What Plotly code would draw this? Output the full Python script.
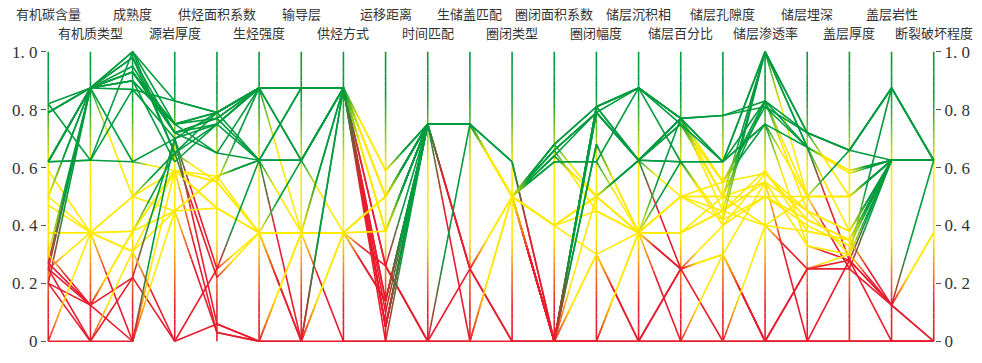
import plotly.graph_objects as go

# Evaluation factors (one vertical axis per factor)
dimensions = [
    "有机碳含量", "有机质类型", "成熟度", "源岩厚度", "供烃面积系数", "生烃强度",
    "输导层", "供烃方式", "运移距离", "时间匹配", "生储盖匹配", "圈闭类型",
    "圈闭面积系数", "圈闭幅度", "储层沉积相", "储层百分比", "储层孔隙度",
    "储层渗透率", "储层埋深", "盖层厚度", "盖层岩性", "断裂破坏程度",
]

tick_values = [0, 0.2, 0.4, 0.6, 0.8, 1.0]
tick_labels = ["0", "0. 2", "0. 4", "0. 6", "0. 8", "1. 0"]

# Normalised factor scores of each trap, grouped by overall grade
good_traps = [
    [0.82, 0.875, 1.00, 0.83, 0.79, 0.875, 0.875, 0.875, 0.05, 0.75, 0.75, 0.50, 0.68, 0.81, 0.875, 0.77, 0.78, 0.83, 0.72, 0.66, 0.875, 0.625],
    [0.79, 0.875, 0.93, 0.72, 0.77, 0.875, 0.875, 0.875, 0.50, 0.75, 0.75, 0.50, 0.66, 0.79, 0.625, 0.77, 0.62, 1.00, 0.67, 0.59, 0.625, 0.625],
    [0.62, 0.875, 0.90, 0.75, 0.79, 0.625, 0.875, 0.875, 0.10, 0.75, 0.75, 0.50, 0.00, 0.81, 0.625, 0.77, 0.45, 1.00, 0.72, 0.50, 0.625, 0.625],
    [0.50, 0.875, 0.87, 0.70, 0.75, 0.875, 0.625, 0.875, 0.14, 0.75, 0.75, 0.62, 0.00, 0.68, 0.375, 0.77, 0.55, 0.81, 0.67, 0.38, 0.625, 0.625],
    [0.30, 0.875, 1.00, 0.65, 0.79, 0.875, 0.875, 0.875, 0.05, 0.75, 0.75, 0.50, 0.00, 0.81, 0.875, 0.62, 0.62, 0.75, 0.50, 0.66, 0.875, 0.625],
    [0.27, 0.875, 0.95, 0.72, 0.77, 0.875, 0.875, 0.875, 0.38, 0.75, 0.75, 0.50, 0.00, 0.79, 0.625, 0.75, 0.50, 0.83, 0.45, 0.30, 0.875, 0.625],
    [0.62, 0.625, 1.00, 0.75, 0.65, 0.625, 0.625, 0.875, 0.26, 0.75, 0.75, 0.50, 0.64, 0.50, 0.625, 0.62, 0.42, 1.00, 0.67, 0.58, 0.625, 0.625],
    [0.82, 0.625, 0.87, 0.83, 0.79, 0.875, 0.875, 0.875, 0.50, 0.75, 0.75, 0.50, 0.62, 0.62, 0.875, 0.77, 0.78, 0.81, 0.72, 0.66, 0.625, 0.625],
    [0.25, 0.875, 0.90, 0.62, 0.75, 0.625, 0.625, 0.875, 0.05, 0.75, 0.75, 0.50, 0.00, 0.68, 0.375, 0.62, 0.40, 0.58, 0.42, 0.35, 0.625, 0.625],
    [0.20, 0.875, 0.62, 0.70, 0.79, 0.875, 0.875, 0.875, 0.14, 0.75, 0.75, 0.50, 0.68, 0.81, 0.875, 0.77, 0.55, 0.75, 0.33, 0.30, 0.625, 0.625],
    [0.79, 0.875, 0.93, 0.72, 0.65, 0.875, 0.875, 0.875, 0.00, 0.75, 0.75, 0.50, 0.00, 0.81, 0.625, 0.75, 0.62, 0.83, 0.50, 0.25, 0.625, 0.625],
    [0.62, 0.875, 0.98, 0.65, 0.75, 0.875, 0.875, 0.875, 0.38, 0.75, 0.75, 0.50, 0.66, 0.79, 0.875, 0.77, 0.62, 1.00, 0.72, 0.66, 0.875, 0.625],
    [0.79, 0.875, 0.90, 0.75, 0.77, 0.625, 0.875, 0.875, 0.59, 0.75, 0.75, 0.50, 0.00, 0.81, 0.875, 0.75, 0.55, 0.83, 0.67, 0.59, 0.625, 0.625],
    [0.62, 0.875, 0.98, 0.72, 0.75, 0.875, 0.875, 0.875, 0.38, 0.75, 0.75, 0.50, 0.64, 0.79, 0.625, 0.77, 0.50, 1.00, 0.50, 0.50, 0.625, 0.625],
    [0.62, 0.875, 0.93, 0.75, 0.79, 0.875, 0.625, 0.875, 0.05, 0.75, 0.75, 0.50, 0.00, 0.79, 0.625, 0.62, 0.62, 0.75, 0.67, 0.28, 0.125, 0.625],
]

fair_traps = [
    [0.50, 0.375, 0.50, 0.59, 0.55, 0.375, 0.375, 0.375, 0.50, 0.75, 0.75, 0.50, 0.40, 0.50, 0.375, 0.50, 0.50, 0.55, 0.45, 0.38, 0.625, 0.625],
    [0.375, 0.375, 0.38, 0.45, 0.57, 0.625, 0.375, 0.875, 0.59, 0.75, 0.75, 0.50, 0.66, 0.45, 0.375, 0.375, 0.45, 0.59, 0.38, 0.35, 0.625, 0.625],
    [0.47, 0.375, 0.31, 0.59, 0.46, 0.375, 0.375, 0.375, 0.50, 0.75, 0.75, 0.50, 0.64, 0.50, 0.375, 0.50, 0.42, 0.50, 0.40, 0.33, 0.625, 0.625],
    [0.62, 0.625, 0.62, 0.59, 0.57, 0.625, 0.625, 0.875, 0.50, 0.75, 0.75, 0.50, 0.62, 0.62, 0.375, 0.50, 0.50, 0.40, 0.50, 0.50, 0.625, 0.625],
    [0.25, 0.375, 0.31, 0.45, 0.46, 0.375, 0.625, 0.375, 0.38, 0.75, 0.75, 0.50, 0.40, 0.30, 0.375, 0.375, 0.45, 0.55, 0.33, 0.28, 0.625, 0.625],
    [0.50, 0.875, 0.50, 0.65, 0.55, 0.875, 0.375, 0.875, 0.50, 0.75, 0.75, 0.50, 0.68, 0.50, 0.625, 0.50, 0.55, 0.58, 0.45, 0.38, 0.625, 0.625],
    [0.375, 0.375, 0.38, 0.59, 0.46, 0.375, 0.375, 0.375, 0.50, 0.75, 0.00, 0.50, 0.40, 0.50, 0.375, 0.25, 0.40, 0.50, 0.50, 0.50, 0.625, 0.625],
    [0.20, 0.125, 0.38, 0.59, 0.55, 0.375, 0.375, 0.375, 0.38, 0.75, 0.25, 0.50, 0.40, 0.45, 0.375, 0.50, 0.45, 0.40, 0.38, 0.35, 0.125, 0.375],
    [0.59, 0.375, 0.50, 0.45, 0.57, 0.375, 0.375, 0.375, 0.50, 0.75, 0.75, 0.50, 0.40, 0.50, 0.375, 0.375, 0.50, 0.50, 0.42, 0.35, 0.625, 0.625],
]

poor_traps = [
    [0.27, 0.125, 0.22, 0.00, 0.25, 0.375, 0.00, 0.375, 0.26, 0.00, 0.00, 0.50, 0.00, 0.00, 0.00, 0.25, 0.30, 0.00, 0.25, 0.28, 0.125, 0.00],
    [0.25, 0.00, 0.31, 0.00, 0.06, 0.00, 0.375, 0.00, 0.00, 0.00, 0.25, 0.00, 0.00, 0.30, 0.00, 0.00, 0.00, 0.00, 0.00, 0.00, 0.00, 0.00],
    [0.00, 0.375, 0.00, 0.45, 0.03, 0.00, 0.00, 0.00, 0.00, 0.00, 0.00, 0.00, 0.00, 0.00, 0.00, 0.25, 0.30, 0.00, 0.00, 0.00, 0.00, 0.00],
    [0.30, 0.125, 0.38, 0.65, 0.22, 0.375, 0.00, 0.375, 0.14, 0.75, 0.25, 0.00, 0.00, 0.00, 0.375, 0.25, 0.00, 0.40, 0.25, 0.30, 0.125, 0.375],
    [0.20, 0.00, 0.00, 0.70, 0.25, 0.625, 0.00, 0.875, 0.26, 0.00, 0.75, 0.62, 0.00, 0.30, 0.00, 0.00, 0.30, 0.00, 0.00, 0.28, 0.00, 0.00],
    [0.00, 0.00, 0.22, 0.70, 0.06, 0.00, 0.00, 0.875, 0.05, 0.75, 0.25, 0.50, 0.00, 0.50, 0.625, 0.25, 0.30, 0.55, 0.00, 0.00, 0.00, 0.00],
    [0.25, 0.125, 0.00, 0.59, 0.03, 0.00, 0.375, 0.375, 0.14, 0.75, 0.75, 0.50, 0.00, 0.00, 0.375, 0.00, 0.00, 0.00, 0.25, 0.25, 0.125, 0.00],
]

RED = (232, 28, 46)
YELLOW = (255, 234, 0)
GREEN = (0, 156, 62)
ORANGE = (246, 130, 30)


def score_colour(v):
    if v < 0.3:
        return RED
    if v < 0.6:
        return YELLOW
    return GREEN


def mix(c0, c1, t):
    return tuple(round(a + (b - a) * t) for a, b in zip(c0, c1))


def rgb(c):
    return "rgb(%d,%d,%d)" % c


BLEND = 0.4     # share of a segment over which the colour shifts
STEPS = 8
pieces = {}  # colour -> (xs, ys)


def add_piece(c, x0, y0, x1, y1):
    xs, ys = pieces.setdefault(c, ([], []))
    xs += [x0, x1, None]
    ys += [y0, y1, None]


# Each segment shifts from the colour of its left score to that of its right score
for row in good_traps + fair_traps + poor_traps:
    for i in range(len(row) - 1):
        y0, y1 = row[i], row[i + 1]
        c0, c1 = score_colour(y0), score_colour(y1)
        if c0 == c1:
            add_piece(c1, i, y0, i + 1, y1)
            continue
        for k in range(STEPS):
            ta, tb = BLEND * k / STEPS, BLEND * (k + 1) / STEPS
            c = mix(c0, c1, (k + 0.5) / STEPS)
            add_piece(c, i + ta, y0 + (y1 - y0) * ta, i + tb, y0 + (y1 - y0) * tb)
        add_piece(c1, i + BLEND, y0 + (y1 - y0) * BLEND, i + 1, y1)

fig = go.Figure()

# Vertical factor axes with a red-yellow-green gradient
axis_stops = [(0.0, RED), (0.12, RED), (0.25, ORANGE), (0.36, YELLOW),
              (0.6, YELLOW), (0.85, GREEN), (1.0, GREEN)]


def axis_colour(v):
    for (p0, c0), (p1, c1) in zip(axis_stops[:-1], axis_stops[1:]):
        if p0 <= v <= p1:
            return mix(c0, c1, (v - p0) / (p1 - p0) if p1 > p0 else 0)
    return GREEN


AX_STEPS = 40
axis_pieces = {}
for i in range(len(dimensions)):
    for k in range(AX_STEPS):
        ya, yb = k / AX_STEPS, (k + 1) / AX_STEPS
        c = axis_colour((ya + yb) / 2)
        xs, ys = axis_pieces.setdefault(c, ([], []))
        xs += [i, i, None]
        ys += [ya, yb, None]

for c, (xs, ys) in axis_pieces.items():
    fig.add_trace(go.Scatter(x=xs, y=ys, mode="lines", hoverinfo="skip",
                             line=dict(color=rgb(c), width=1.6), showlegend=False))

for c in sorted(pieces, key=lambda c: c[1] - c[0]):
    xs, ys = pieces[c]
    fig.add_trace(go.Scatter(x=xs, y=ys, mode="lines", hoverinfo="skip",
                             line=dict(color=rgb(c), width=1.6), showlegend=False))

# Right-hand scale
fig.add_trace(go.Scatter(x=[len(dimensions) - 1], y=[0], yaxis="y2", mode="markers",
                         marker=dict(opacity=0), hoverinfo="skip", showlegend=False))

# Factor names, staggered over two rows
for i, name in enumerate(dimensions):
    fig.add_annotation(x=i, xref="x", y=1.1246 if i % 2 == 0 else 1.0598, yref="paper",
                       text=name, showarrow=False, xanchor="center", yanchor="middle",
                       font=dict(family="Noto Sans CJK SC", size=13, color="#333333"))

tick_font = dict(family="Liberation Serif", size=17, color="#333333")
yrange = [-0.006, 1.006]
fig.update_layout(
    width=982, height=363,
    margin=dict(l=44, r=38, t=50, b=12),
    paper_bgcolor="white", plot_bgcolor="white",
    showlegend=False, hovermode=False,
    xaxis=dict(range=[-0.03, len(dimensions) - 1 + 0.03], visible=False, fixedrange=True),
    yaxis=dict(range=yrange, tickvals=tick_values, ticktext=tick_labels, ticks="outside",
               ticklen=5, tickcolor="#555555", tickwidth=1, showgrid=False, zeroline=False,
               showline=False, tickfont=tick_font, fixedrange=True),
    yaxis2=dict(range=yrange, tickvals=tick_values, ticktext=tick_labels, ticks="outside",
                ticklen=5, tickcolor="#555555", tickwidth=1, showgrid=False, zeroline=False,
                showline=False, tickfont=tick_font, overlaying="y", side="right",
                fixedrange=True),
)

fig.write_html("out.html")
